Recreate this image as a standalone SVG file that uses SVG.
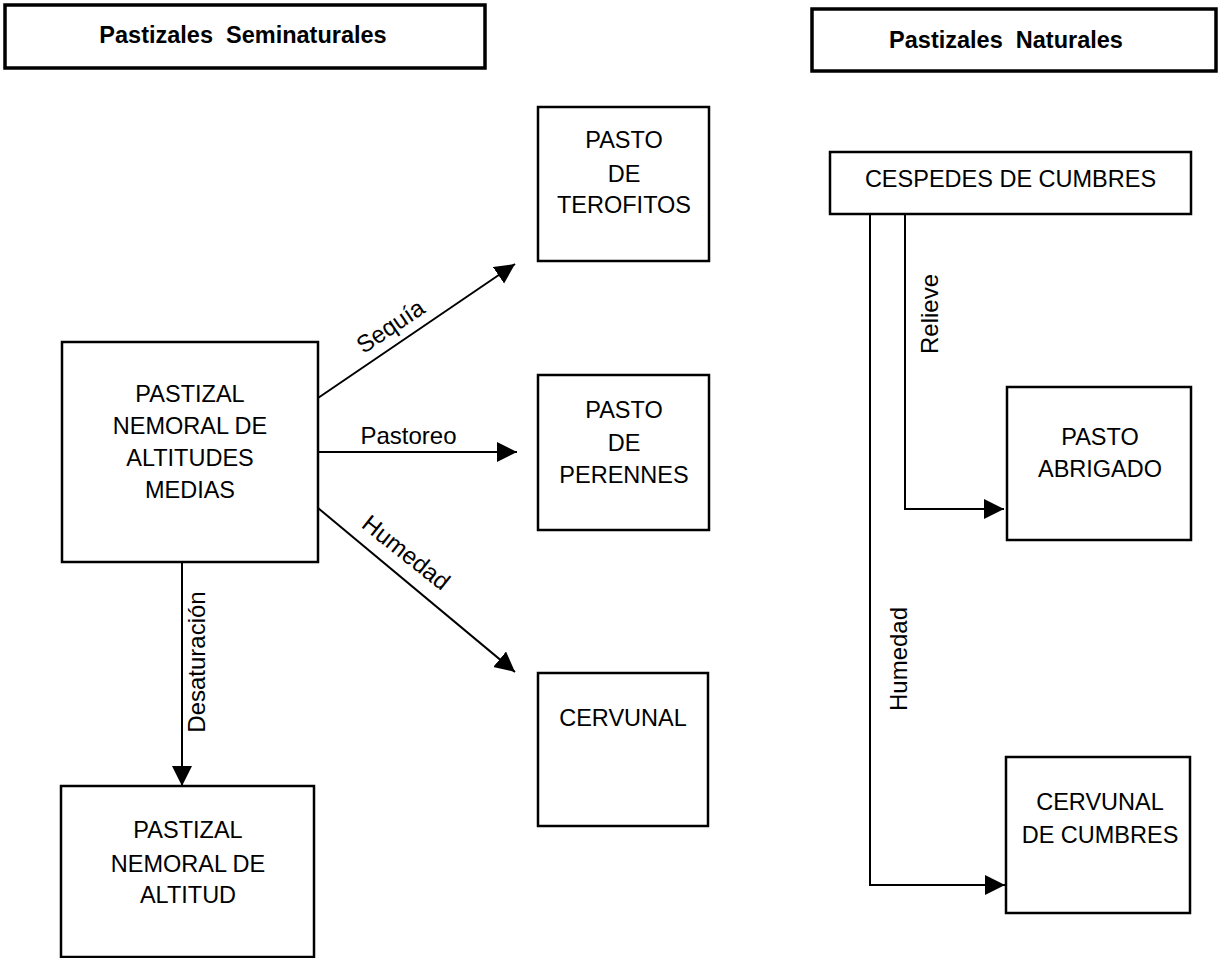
<svg xmlns="http://www.w3.org/2000/svg" width="1221" height="958" viewBox="0 0 1221 958">
<defs>
<style>
.title{fill:#fff;stroke:#000;stroke-width:3.5}
.box{fill:#fff;stroke:#000;stroke-width:2.5}
.tt{font-family:"Liberation Sans",Arial,sans-serif;font-weight:bold;font-size:23.5px;text-anchor:middle;fill:#000}
.nt{font-family:"Liberation Sans",Arial,sans-serif;font-size:23.5px;text-anchor:middle;fill:#000}
.lb{font-family:"Liberation Sans",Arial,sans-serif;font-size:24px;text-anchor:middle;fill:#000}
.edge{fill:none;stroke:#000;stroke-width:2}
</style>
<marker id="arr" markerUnits="userSpaceOnUse" markerWidth="22" markerHeight="22" refX="20" refY="10" orient="auto">
<path d="M0,0 L20,10 L0,20 z" fill="#000"/>
</marker>
</defs>
<rect width="1221" height="958" fill="#fff"/>
<g id="title-seminaturales">
<rect class="title" x="5" y="5" width="480" height="63"/>
<text class="tt" x="243" y="43" xml:space="preserve">Pastizales  Seminaturales</text>
</g>
<g id="title-naturales">
<rect class="title" x="812" y="9" width="404" height="62"/>
<text class="tt" x="1006" y="48" xml:space="preserve">Pastizales  Naturales</text>
</g>
<g id="connectors">
<line class="edge" x1="318" y1="398" x2="515" y2="264" marker-end="url(#arr)"/>
<line class="edge" x1="318" y1="452" x2="517" y2="452" marker-end="url(#arr)"/>
<line class="edge" x1="318" y1="508" x2="515" y2="672" marker-end="url(#arr)"/>
<line class="edge" x1="182" y1="562" x2="182" y2="786" marker-end="url(#arr)"/>
<polyline class="edge" points="905,214 905,509 1004,509" marker-end="url(#arr)"/>
<polyline class="edge" points="870,214 870,885 1005,885" marker-end="url(#arr)"/>
<text class="lb" transform="translate(395,333) rotate(-34)">Sequía</text>
<text class="lb" x="408.5" y="444">Pastoreo</text>
<text class="lb" transform="translate(401,559) rotate(38.5)">Humedad</text>
<text class="lb" transform="translate(205,662) rotate(-90)">Desaturación</text>
<text class="lb" transform="translate(938,314) rotate(-90)">Relieve</text>
<text class="lb" transform="translate(907,659) rotate(-90)">Humedad</text>
</g>
<g id="node-nemoral-medias">
<rect class="box" x="62" y="342" width="256" height="220"/>
<text class="nt" x="190" y="402">PASTIZAL</text>
<text class="nt" x="190" y="434">NEMORAL DE</text>
<text class="nt" x="190" y="466">ALTITUDES</text>
<text class="nt" x="190" y="498">MEDIAS</text>
</g>
<g id="node-terofitos">
<rect class="box" x="538" y="107" width="171" height="154"/>
<text class="nt" x="624" y="148">PASTO</text>
<text class="nt" x="624" y="182">DE</text>
<text class="nt" x="624" y="213">TEROFITOS</text>
</g>
<g id="node-perennes">
<rect class="box" x="538" y="375" width="171" height="155"/>
<text class="nt" x="624" y="418">PASTO</text>
<text class="nt" x="624" y="451">DE</text>
<text class="nt" x="624" y="483">PERENNES</text>
</g>
<g id="node-cervunal">
<rect class="box" x="538" y="673" width="170" height="153"/>
<text class="nt" x="623" y="726">CERVUNAL</text>
</g>
<g id="node-nemoral-altitud">
<rect class="box" x="61" y="786" width="253" height="171"/>
<text class="nt" x="188" y="838">PASTIZAL</text>
<text class="nt" x="188" y="872">NEMORAL DE</text>
<text class="nt" x="188" y="903">ALTITUD</text>
</g>
<g id="node-cespedes">
<rect class="box" x="830" y="152" width="361" height="62"/>
<text class="nt" x="1010.5" y="187">CESPEDES DE CUMBRES</text>
</g>
<g id="node-abrigado">
<rect class="box" x="1007" y="387" width="184" height="153"/>
<text class="nt" x="1100" y="445">PASTO</text>
<text class="nt" x="1100" y="477">ABRIGADO</text>
</g>
<g id="node-cervunal-cumbres">
<rect class="box" x="1006" y="757" width="184" height="156"/>
<text class="nt" x="1100" y="810">CERVUNAL</text>
<text class="nt" x="1100" y="843">DE CUMBRES</text>
</g>
</svg>
